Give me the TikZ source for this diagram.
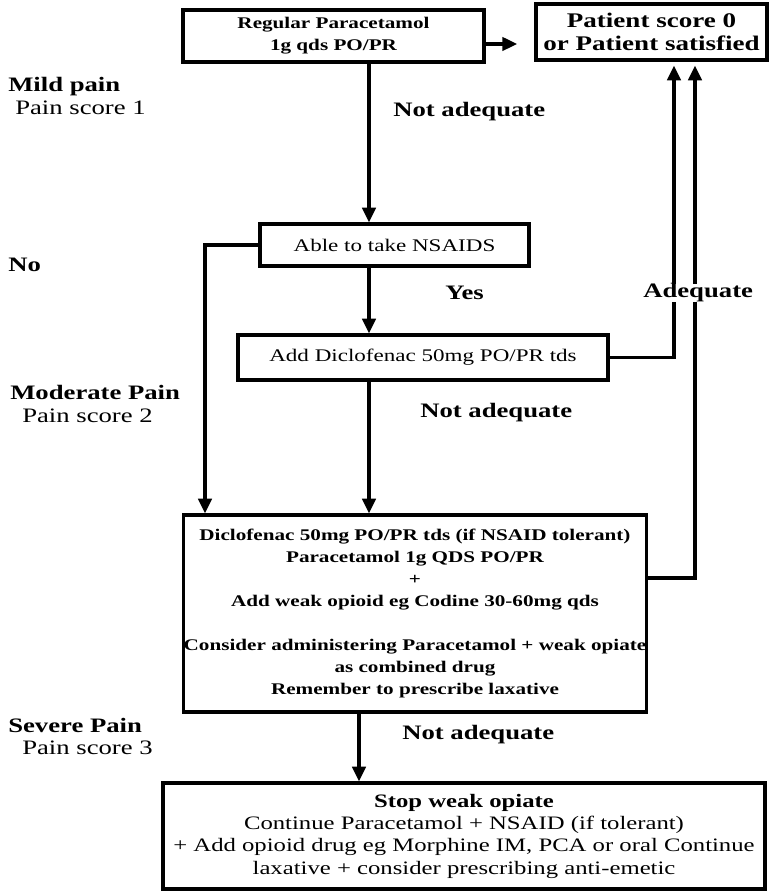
\documentclass[tikz,border=0pt]{standalone}
\usepackage{fontspec}
\setmainfont{Liberation Serif}[FakeStretch=1.3]
\usetikzlibrary{arrows.meta}

\begin{document}
\begin{tikzpicture}[x=0.75pt,y=-0.75pt,
    box/.style={draw,line width=2.4pt,align=center,inner sep=0pt},
    lbl/.style={anchor=west,inner sep=0pt,font=\fontsize{15.4}{18}\selectfont\bfseries},
    sublbl/.style={anchor=west,inner sep=0pt,font=\fontsize{15.4}{18}\selectfont},
    arr/.style={line width=2.4pt,-{Triangle[length=11pt,width=10pt]}}]
  \useasboundingbox (0,0) rectangle (769,891);
  % boxes
  \node[box,minimum width=225.75pt,minimum height=39pt,font=\fontsize{12.2}{16.5}\selectfont\bfseries] (para) at (333.5,36) {Regular Paracetamol\\1g qds PO/PR};
  \node[box,minimum width=173.25pt,minimum height=42pt,font=\fontsize{15.6}{17.25}\selectfont\bfseries] (satis) at (651.5,32) {Patient score 0\\or Patient satisfied};
  \node[box,minimum width=201.75pt,minimum height=31.5pt,font=\fontsize{13.3}{16}\selectfont] (nsaid) at (394.5,245) {Able to take NSAIDS};
  \node[box,minimum width=277.5pt,minimum height=33.75pt,font=\fontsize{13.3}{16}\selectfont] (diclo) at (423,357.5) {Add Diclofenac 50mg PO/PR tds};
  \node[box,minimum width=330pt,minimum height=147.75pt,font=\fontsize{12.2}{16.4}\selectfont\bfseries] (weak) at (415,613.5) {Diclofenac 50mg PO/PR tds (if NSAID tolerant)\\Paracetamol 1g QDS PO/PR\\+\\Add weak opioid eg Codine 30-60mg qds\\[16.4pt]Consider administering Paracetamol + weak opiate\\as combined drug\\Remember to prescribe laxative};
  \node[box,minimum width=451.5pt,minimum height=79.5pt,font=\fontsize{14.25}{16.75}\selectfont] (strong) at (464,836) {\textbf{Stop weak opiate}\\Continue Paracetamol + NSAID (if tolerant)\\+ Add opioid drug eg Morphine IM, PCA or oral Continue\\laxative + consider prescribing anti-emetic};
  % columns of the connectors
  \coordinate (cmid) at (369,0);
  \coordinate (cleft) at (205,0);
  \coordinate (cright) at (674,0);
  \coordinate (cfar) at (695,0);
  \coordinate (clow) at (359,0);
  % connectors
  \draw[arr,shorten >=13pt] ([yshift=-6pt]para.east) -- ([yshift=-6pt]para.east -| satis.west);
  \draw[arr] (para.south -| cmid) -- (nsaid.north -| cmid);
  \draw[arr] (nsaid.west) -| (cleft |- weak.north);
  \draw[arr] (nsaid.south -| cmid) -- (diclo.north -| cmid);
  \draw[arr,shorten >=3pt] (diclo.east) -| (cright |- satis.south);
  \draw[arr] (diclo.south -| cmid) -- (weak.north -| cmid);
  \draw[arr,shorten >=3pt] ([yshift=26.6pt]weak.east) -| (cfar |- satis.south);
  \draw[arr] (weak.south -| clow) -- (strong.north -| clow);
  % labels
  \node[lbl] (mild) at (8,87) {Mild pain};
  \node[sublbl] (mildscore) at (15,108) {Pain score 1};
  \node[lbl] (notadq1) at (393,112) {Not adequate};
  \node[lbl] (no) at (8,265) {No};
  \node[lbl] (yes) at (445,293) {Yes};
  \node[lbl,fill=white] (adeq) at (643,293) {Adequate};
  \node[lbl] (moderate) at (10,392) {Moderate Pain};
  \node[sublbl] (modscore) at (22,416) {Pain score 2};
  \node[lbl] (notadq2) at (420,413) {Not adequate};
  \node[lbl] (severe) at (8,725) {Severe Pain};
  \node[sublbl] (sevscore) at (22,748) {Pain score 3};
  \node[lbl] (notadq3) at (402,735) {Not adequate};
\end{tikzpicture}
\end{document}
